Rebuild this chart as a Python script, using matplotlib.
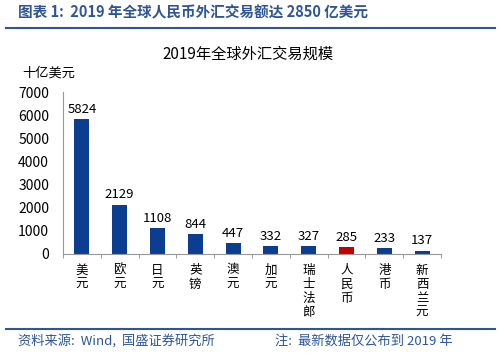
import numpy as np
import matplotlib.pyplot as plt
from matplotlib.lines import Line2D

plt.rcParams['font.family'] = ['Noto Sans CJK SC', 'DejaVu Sans']

# 数据
monedas = ['美元', '欧元', '日元', '英镑', '澳元', '加元', '瑞士法郎', '人民币', '港币', '新西兰元']
volumen = [5824, 2129, 1108, 844, 447, 332, 327, 285, 233, 137]
colores = ['#0B3D91'] * 7 + ['#C00000'] + ['#0B3D91'] * 2

azul_titulo = '#2F5597'

fig = plt.figure(figsize=(5, 3.57), dpi=100)
ax = fig.add_axes([0.126, 0.289, 0.756, 0.453])

x = np.arange(len(monedas))
ax.bar(x, volumen, width=0.4, color=colores)

# etiquetas de valores
for xi, v in zip(x, volumen):
    ax.text(xi, v + 150, str(v), ha='center', va='bottom', fontsize=9.5, color='black')

ax.set_xlim(-0.5, len(monedas) - 0.5)
ax.set_ylim(0, 7000)
ax.set_yticks(range(0, 7001, 1000))
ax.tick_params(axis='y', length=0, labelsize=10, pad=10)

# etiquetas verticales
ax.set_xticks(x)
ax.set_xticklabels(['\n'.join(m) for m in monedas], fontsize=9, linespacing=1.1, va='top')
ax.tick_params(axis='x', which='major', length=0, pad=7)
ax.set_xticks(np.arange(-0.5, len(monedas), 1), minor=True)
ax.tick_params(axis='x', which='minor', length=3, color='#888888', direction='out')

for s in ['top', 'right']:
    ax.spines[s].set_visible(False)
ax.spines['left'].set_color('#999999')
ax.spines['bottom'].set_color('#999999')

ax.text(-0.108, 1.118, '十亿美元', transform=ax.transAxes, fontsize=9.5, ha='left', va='center')
fig.text(0.496, 0.848, '2019年全球外汇交易规模', ha='center', va='center', fontsize=11)

# cabecera y pie
fig.text(0.036, 0.965, '图表 1:  2019 年全球人民币外汇交易额达 2850 亿美元', fontsize=10.5,
         color=azul_titulo, style='italic', weight='bold', ha='left', va='center')
fig.add_artist(Line2D([0.012, 0.99], [0.921, 0.921], color=azul_titulo, lw=1.5))
fig.add_artist(Line2D([0.012, 0.99], [0.078, 0.078], color=azul_titulo, lw=1.5))
fig.text(0.036, 0.045, '资料来源:  Wind,  国盛证券研究所', fontsize=9.5,
         color=azul_titulo, style='italic', ha='left', va='center')
fig.text(0.55, 0.045, '注:  最新数据仅公布到 2019 年', fontsize=9.5,
         color=azul_titulo, style='italic', ha='left', va='center')

fig.savefig('out.png', dpi=100)
